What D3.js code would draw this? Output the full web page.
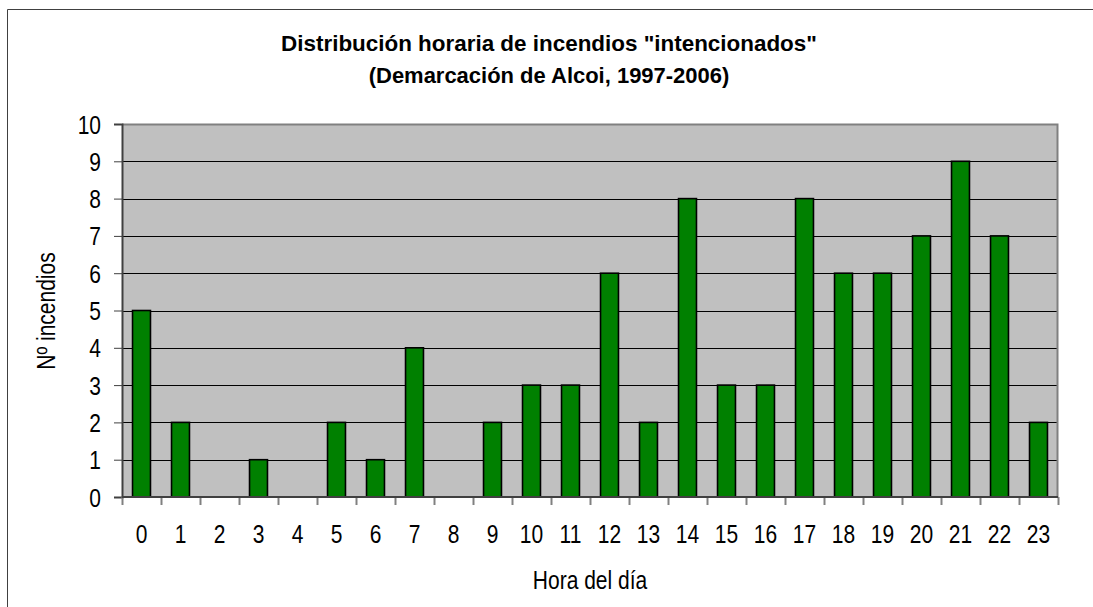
<!DOCTYPE html>
<html>
<head>
<meta charset="utf-8">
<script src="https://cdn.jsdelivr.net/npm/d3@7"></script>
<style>
  body { margin: 0; background: #fff; }
  svg text { font-family: "Liberation Sans", Arial, sans-serif; fill: #000; }
</style>
</head>
<body>
<div id="chart"></div>
<script>
// horas y número de incendios
var hours = d3.range(0, 24)
var fires = [5, 2, 0, 1, 0, 2, 1, 4, 0, 2, 3, 3, 6, 2, 8, 3, 3, 8, 6, 6, 7, 9, 7, 2]
var yTicks = [0, 1, 2, 3, 4, 5, 6, 7, 8, 9, 10]

var titleLines = ['Distribución horaria de incendios "intencionados"', '(Demarcación de Alcoi, 1997-2006)']
var xTitle = 'Hora del día'
var yTitle = 'Nº incendios'

var W = 1093, H = 607
var m = {left: 122, top: 124, right: W - 1058, bottom: H - 497}
var pw = W - m.left - m.right, ph = H - m.top - m.bottom
var SY = 1.2   // el texto original sale estirado en vertical

var svg = d3.select('#chart').append('svg').attr('width', W).attr('height', H)

// marco exterior (solo se ven el lado izquierdo y superior)
svg.append('path').attr('d', 'M7.5,' + H + 'V9.5H' + W)
  .attr('fill', 'none').attr('stroke', '#404040').attr('stroke-width', 1)

var g = svg.append('g').attr('transform', 'translate(' + m.left + ',' + m.top + ')')

var x = d3.scaleBand().domain(hours).range([0, pw]).paddingInner(0.54).paddingOuter(0.27)
var y = d3.scaleLinear().domain([0, 10]).range([ph, 0])

g.append('rect').attr('width', pw).attr('height', ph).attr('fill', '#c0c0c0')

// rejilla
g.selectAll('.grid').data(yTicks.filter(d => d > 0 && d < 10)).enter().append('line')
  .attr('x1', 0).attr('x2', pw)
  .attr('y1', d => Math.round(y(d)) + 0.5).attr('y2', d => Math.round(y(d)) + 0.5)
  .attr('stroke', '#000').attr('stroke-width', 1)

// borde superior y derecho
g.append('path').attr('d', 'M0,0.5H' + (pw - 0.5) + 'V' + ph)
  .attr('fill', 'none').attr('stroke', '#808080').attr('stroke-width', 2)

// barras
g.selectAll('.bar').data(fires).enter().append('rect')
  .attr('x', (d, i) => x(hours[i]))
  .attr('y', d => y(d))
  .attr('width', x.bandwidth())
  .attr('height', d => ph - y(d))
  .attr('fill', '#008000')
  .attr('stroke', '#000')
  .attr('stroke-width', 1.6)
  .style('display', d => d > 0 ? null : 'none')

// eje Y
var yAxis = g.append('g').call(d3.axisLeft(y).tickValues(yTicks).tickSize(8))
yAxis.select('.domain').attr('stroke', '#404040').attr('stroke-width', 2)
yAxis.selectAll('.tick line').attr('stroke', '#404040')
yAxis.selectAll('.tick text').attr('font-size', 21).attr('x', null).attr('dy', null)
  .attr('transform', 'translate(-21,' + (0.36 * 21 * SY) + ') scale(1,' + SY + ')')
  .style('font-family', '"Liberation Sans", Arial, sans-serif')

// eje X
var xAxis = g.append('g').attr('transform', 'translate(0,' + ph + ')')
  .call(d3.axisBottom(x).tickSize(0).tickPadding(0))
xAxis.select('.domain').remove()
xAxis.selectAll('.tick text').attr('font-size', 21).attr('y', null).attr('dy', null)
  .attr('transform', 'translate(0,46) scale(1,' + SY + ')')
  .style('font-family', '"Liberation Sans", Arial, sans-serif')

var step = x.step()
xAxis.selectAll('.sep').data(d3.range(0, hours.length + 1)).enter().append('line')
  .attr('x1', i => Math.round(i * step) + 0.5).attr('x2', i => Math.round(i * step) + 0.5)
  .attr('y1', 0).attr('y2', 8)
  .attr('stroke', '#808080').attr('stroke-width', 2)

xAxis.append('line').attr('x1', 0).attr('x2', pw).attr('y1', 0).attr('y2', 0)
  .attr('stroke', '#404040').attr('stroke-width', 2)

// títulos
var titleY = [51, 83], titleW = [536, 361]
titleLines.forEach(function(t, i) {
  var tx = svg.append('text').text(t)
    .attr('font-size', 20).attr('font-weight', 'bold').attr('text-anchor', 'middle')
  var len = tx.node().getComputedTextLength()
  var sx = titleW[i] / len
  tx.attr('transform', 'translate(549,' + titleY[i] + ') scale(' + sx + ',' + SY * 0.95 + ')')
})

svg.append('text').text(xTitle)
  .attr('transform', 'translate(590,589) scale(1,' + SY + ')')
  .attr('text-anchor', 'middle').attr('font-size', 21)

svg.append('text').text(yTitle)
  .attr('transform', 'translate(55,311) rotate(-90) scale(1,' + SY + ')')
  .attr('text-anchor', 'middle').attr('font-size', 21)
</script>
</body>
</html>
